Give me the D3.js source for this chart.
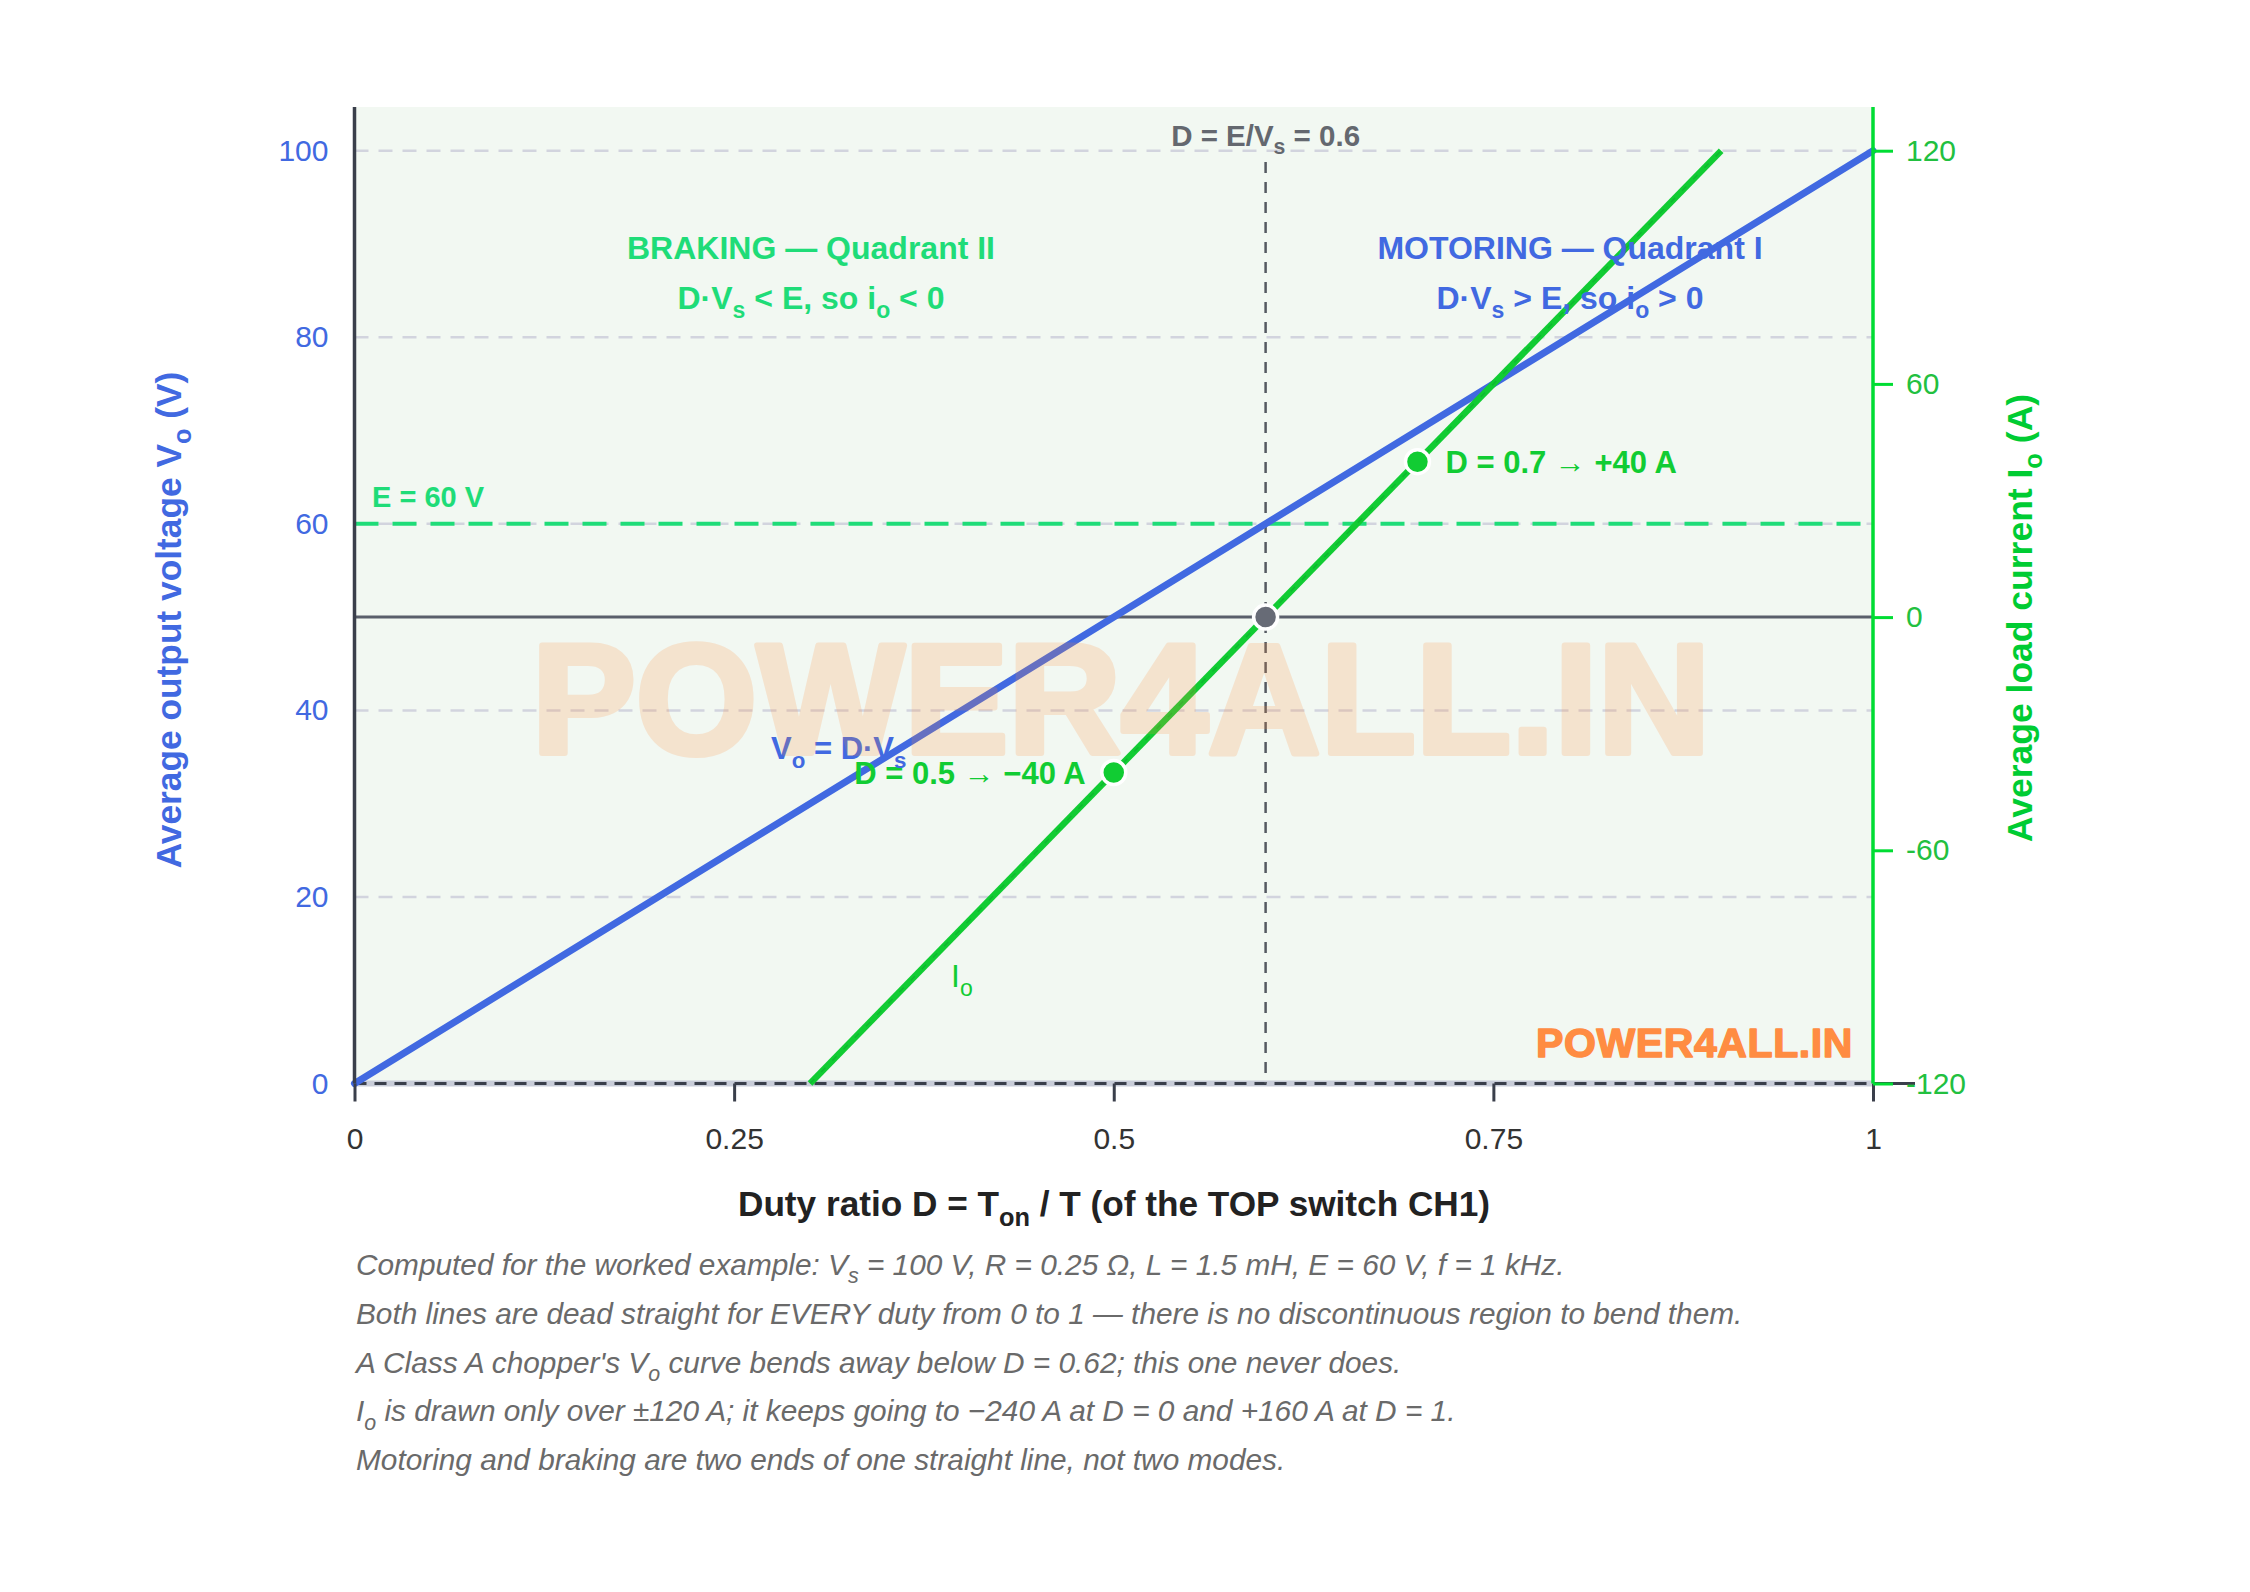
<!DOCTYPE html>
<html><head><meta charset="utf-8">
<script src="https://cdn.jsdelivr.net/npm/d3@7"></script>
<style>body{margin:0;background:#fff}</style>
</head><body><script>
// ---------- data ----------
const dutyTicks = [0, 0.25, 0.5, 0.75, 1];
const voltTicks = [0, 20, 40, 60, 80, 100];
const currentTicks = [-120, -60, 0, 60, 120];
const voltGrid = [20, 40, 60, 80, 100];
const voLine = [[0, 0], [1, 100]];          // [D, Vo]
const ioLine = [[0.3, -120], [0.9, 120]];   // [D, Io]
const opPoints = [
  {d: 0.5, i: -40, label: "D = 0.5 → −40 A", side: "left"},
  {d: 0.7, i: 40, label: "D = 0.7 → +40 A", side: "right"}
];
const balancePoint = {d: 0.6, i: 0};
const backEMF = 60;
const critDuty = 0.6;
const footnotes = [
  ["Computed for the worked example: V", "_s", " = 100 V, R = 0.25 Ω, L = 1.5 mH, E = 60 V, f = 1 kHz."],
  ["Both lines are dead straight for EVERY duty from 0 to 1 — there is no discontinuous region to bend them."],
  ["A Class A chopper's V", "_o", " curve bends away below D = 0.62; this one never does."],
  ["I", "_o", " is drawn only over ±120 A; it keeps going to −240 A at D = 0 and +160 A at D = 1."],
  ["Motoring and braking are two ends of one straight line, not two modes."]
];

// ---------- layout ----------
const W = 2250, H = 1592;
const L = 354.5, R = 1873, T = 150.7, B = 1083.5, TOPBOX = 107;
const FONT = "'Liberation Sans', Arial, Helvetica, sans-serif";
const BLUE = "#4169e1", GREEN = "#11cc33", SPRING = "#1fdc78", DARK = "#3a3f4b";

const x = d3.scaleLinear().domain([0, 1]).range([L, R]);
const yV = d3.scaleLinear().domain([0, 100]).range([B, T]);
const yI = d3.scaleLinear().domain([-120, 120]).range([B, T]);

const svg = d3.select("body").append("svg").attr("width", W).attr("height", H)
  .style("font-family", FONT);

function rich(sel, parts, fs) {
  let sub = false;
  parts.forEach(p => {
    if (p.startsWith("_")) {
      sel.append("tspan").attr("font-size", fs * 0.72).attr("dy", fs * 0.28).text(p.slice(1));
      sub = true;
    } else {
      const t = sel.append("tspan").text(p);
      if (sub) { t.attr("dy", -fs * 0.28); sub = false; }
    }
  });
  return sel;
}

// plot background
svg.append("rect").attr("x", L).attr("y", TOPBOX).attr("width", R - L).attr("height", B - TOPBOX)
  .attr("fill", "#f2f8f2");

// gridlines
svg.append("g").selectAll("line").data(voltGrid).join("line")
  .attr("x1", L).attr("x2", R).attr("y1", d => yV(d)).attr("y2", d => yV(d))
  .attr("stroke", "#d2d4de").attr("stroke-width", 2.5).attr("stroke-dasharray", "14,10");

// bottom baseline (light band + dark dashes)
svg.append("line").attr("x1", L).attr("x2", R).attr("y1", yV(0)).attr("y2", yV(0))
  .attr("stroke", "#c9cdd9").attr("stroke-width", 6);
svg.append("line").attr("x1", L).attr("x2", R).attr("y1", yV(0)).attr("y2", yV(0))
  .attr("stroke", DARK).attr("stroke-width", 3).attr("stroke-dasharray", "12,8");

// zero-current line
svg.append("line").attr("x1", L).attr("x2", R).attr("y1", yI(0)).attr("y2", yI(0))
  .attr("stroke", "#5a5f6b").attr("stroke-width", 3);

// E = 60 V line
svg.append("line").attr("x1", L).attr("x2", R).attr("y1", yV(backEMF)).attr("y2", yV(backEMF))
  .attr("stroke", SPRING).attr("stroke-width", 4).attr("stroke-dasharray", "24,14");

// critical duty vertical
svg.append("line").attr("x1", x(critDuty)).attr("x2", x(critDuty)).attr("y1", 162).attr("y2", B)
  .attr("stroke", "#555a62").attr("stroke-width", 2.5).attr("stroke-dasharray", "11,9");
svg.append("text").attr("x", x(critDuty)).attr("y", 146).attr("text-anchor", "middle")
  .attr("font-size", 29.5).attr("font-weight", "bold").attr("fill", "#64686f")
  .call(s => rich(s, ["D = E/V", "_s", " = 0.6"], 29.5));

// Vo line
svg.append("path").datum(voLine)
  .attr("d", d3.line().x(d => x(d[0])).y(d => yV(d[1])))
  .attr("stroke", BLUE).attr("stroke-width", 7).attr("fill", "none").attr("stroke-linecap", "round");

// Io line
svg.append("path").datum(ioLine)
  .attr("d", d3.line().x(d => x(d[0])).y(d => yI(d[1])))
  .attr("stroke", GREEN).attr("stroke-width", 6.5).attr("fill", "none");
svg.append("path").datum(ioLine)
  .attr("d", d3.line().x(d => x(d[0])).y(d => yI(d[1])))
  .attr("stroke", "#0a8a2a").attr("stroke-width", 1.5).attr("stroke-opacity", 0.3)
  .attr("stroke-dasharray", "6,10").attr("fill", "none");

// operating points
svg.append("g").selectAll("circle").data(opPoints).join("circle")
  .attr("cx", d => x(d.d)).attr("cy", d => yI(d.i)).attr("r", 12)
  .attr("fill", GREEN).attr("stroke", "#fff").attr("stroke-width", 3.5);
svg.append("circle").attr("cx", x(balancePoint.d)).attr("cy", yI(balancePoint.i)).attr("r", 12)
  .attr("fill", "#676b76").attr("stroke", "#fff").attr("stroke-width", 3.5);
svg.append("g").selectAll("text").data(opPoints).join("text")
  .attr("x", d => d.side === "right" ? x(d.d) + 28 : x(d.d) - 28)
  .attr("y", d => yI(d.i) + 11)
  .attr("text-anchor", d => d.side === "right" ? "start" : "end")
  .attr("font-size", 31).attr("font-weight", "bold").attr("fill", GREEN)
  .text(d => d.label);

// line labels
svg.append("text").attr("x", 771).attr("y", 759).attr("font-size", 31).attr("font-weight", "bold")
  .attr("fill", BLUE).call(s => rich(s, ["V", "_o", " = D·V", "_s"], 31));
svg.append("text").attr("x", 951).attr("y", 987).attr("font-size", 32)
  .attr("fill", GREEN).call(s => rich(s, ["I", "_o"], 32));
svg.append("text").attr("x", 372).attr("y", 507).attr("font-size", 29).attr("font-weight", "bold")
  .attr("fill", SPRING).text("E = 60 V");

// quadrant annotations
const qa = svg.append("g").attr("font-size", 32).attr("font-weight", "bold").attr("text-anchor", "middle");
qa.append("text").attr("x", 811).attr("y", 259).attr("fill", SPRING).text("BRAKING — Quadrant II");
qa.append("text").attr("x", 811).attr("y", 309).attr("fill", SPRING)
  .call(s => rich(s, ["D·V", "_s", " < E, so i", "_o", " < 0"], 32));
qa.append("text").attr("x", 1570).attr("y", 259).attr("fill", BLUE).text("MOTORING — Quadrant I");
qa.append("text").attr("x", 1570).attr("y", 309).attr("fill", BLUE)
  .call(s => rich(s, ["D·V", "_s", " > E, so i", "_o", " > 0"], 32));

// left axis
svg.append("line").attr("x1", L).attr("x2", L).attr("y1", TOPBOX).attr("y2", B)
  .attr("stroke", DARK).attr("stroke-width", 3.5);
const gl = svg.append("g").attr("transform", `translate(${L},0)`)
  .call(d3.axisLeft(yV).tickValues(voltTicks).tickSize(0).tickPadding(26).tickFormat(d => String(d)));
gl.select(".domain").remove();
gl.selectAll("text").attr("font-size", 30).attr("fill", BLUE).attr("font-family", FONT);

// bottom axis ticks
const gb = svg.append("g").attr("transform", `translate(0,${B})`)
  .call(d3.axisBottom(x).tickValues(dutyTicks).tickSize(18).tickPadding(26).tickFormat(d => String(d)));
gb.select(".domain").remove();
gb.selectAll("line").attr("stroke", DARK).attr("stroke-width", 3);
gb.selectAll("text").attr("font-size", 30).attr("fill", "#333").attr("font-family", FONT);

// small dark extension at bottom right
svg.append("line").attr("x1", R).attr("x2", R + 42).attr("y1", B).attr("y2", B)
  .attr("stroke", DARK).attr("stroke-width", 3);

// right axis
svg.append("line").attr("x1", R).attr("x2", R).attr("y1", TOPBOX).attr("y2", B)
  .attr("stroke", "#00dd33").attr("stroke-width", 3.5);
const gr = svg.append("g").attr("transform", `translate(${R},0)`)
  .call(d3.axisRight(yI).tickValues(currentTicks).tickSize(20).tickPadding(13).tickFormat(d => String(d)));
gr.select(".domain").remove();
gr.selectAll("line").attr("stroke", "#00dd33").attr("stroke-width", 3);
gr.selectAll("text").attr("font-size", 30).attr("fill", "#22c040").attr("font-family", FONT);

// axis titles
svg.append("text").attr("transform", `translate(181,620) rotate(-90)`).attr("text-anchor", "middle")
  .attr("font-size", 35.3).attr("font-weight", "bold").attr("fill", BLUE)
  .call(s => rich(s, ["Average output voltage V", "_o", " (V)"], 35.3));
svg.append("text").attr("transform", `translate(2032,618) rotate(-90)`).attr("text-anchor", "middle")
  .attr("font-size", 35.5).attr("font-weight", "bold").attr("fill", "#00cc33")
  .call(s => rich(s, ["Average load current I", "_o", " (A)"], 35.5));
svg.append("text").attr("x", 1114).attr("y", 1216).attr("text-anchor", "middle")
  .attr("font-size", 35.2).attr("font-weight", "bold").attr("fill", "#222")
  .call(s => rich(s, ["Duty ratio D = T", "_on", " / T (of the TOP switch CH1)"], 35.2));

// footnotes
svg.append("g").selectAll("text").data(footnotes).join("text")
  .attr("x", 356).attr("y", (d, i) => 1275 + i * 48.8)
  .attr("font-size", 29.8).attr("font-style", "italic").attr("fill", "#6a6a6a")
  .each(function(d) { rich(d3.select(this), d, 29.8); });

// watermarks
svg.append("text").attr("x", 1121).attr("y", 753).attr("text-anchor", "middle")
  .attr("font-size", 156).attr("font-weight", "bold").attr("fill", "#ff8c3a")
  .attr("stroke", "#ff8c3a").attr("stroke-width", 6).attr("stroke-linejoin", "round")
  .attr("opacity", 0.19).text("POWER4ALL.IN");
svg.append("text").attr("x", 1853).attr("y", 1057).attr("text-anchor", "end")
  .attr("font-size", 41).attr("font-weight", "bold").attr("fill", "#ff8c42")
  .attr("letter-spacing", 0.6)
  .attr("stroke", "#ff8c42").attr("stroke-width", 1.5).attr("stroke-linejoin", "round")
  .text("POWER4ALL.IN");
</script></body></html>
